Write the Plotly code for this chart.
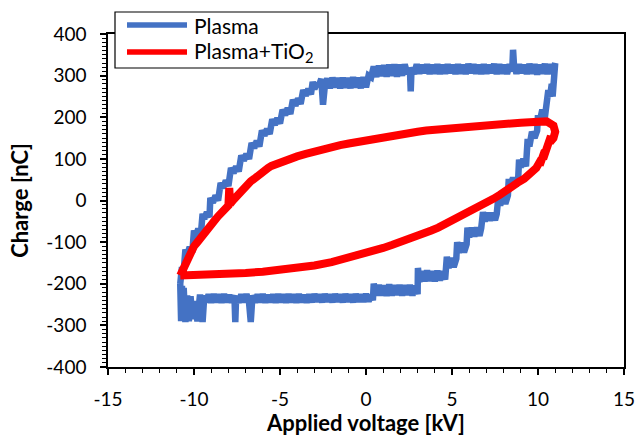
import plotly.graph_objects as go

# ---------------- data ----------------
# Plasma loop, bottom edge (left -> right)
plasma_bottom_v = [-10.8,-10.75,-10.7,-10.65,-10.6,-10.5,-10.4,-10.3,-10.2,-10.1,-9.95,-9.8,-9.65,-9.5,-9.4,-9.3,-9.15,-9.0,-8.85,-8.7,-8.55,-8.4,-8.25,-8.1,-7.95,-7.8,-7.65,-7.6,-7.55,-7.4,-7.25,-7.1,-6.95,-6.8,-6.7,-6.6,-6.45,-6.3,-6.15,-6.0,-5.85,-5.7,-5.55,-5.4,-5.25,-5.1,-4.95,-4.8,-4.65,-4.5,-4.35,-4.2,-4.05,-3.9,-3.75,-3.6,-3.45,-3.3,-3.15,-3.0,-2.85,-2.7,-2.55,-2.4,-2.25,-2.1,-1.95,-1.8,-1.65,-1.5,-1.35,-1.2,-1.05,-0.9,-0.75,-0.6,-0.45,-0.3,-0.15,0.0,0.15,0.3,0.4]
plasma_bottom_q = [-200,-290,-205,-288,-210,-292,-228,-290,-230,-285,-242,-290,-226,-292,-228,-244,-226,-245,-225,-244,-226,-245,-225,-244,-227,-245,-228,-292,-230,-245,-226,-244,-225,-245,-292,-228,-245,-226,-244,-225,-245,-227,-244,-226,-245,-225,-244,-226,-245,-225,-244,-226,-245,-225,-244,-227,-245,-226,-244,-225,-243,-226,-244,-225,-243,-226,-244,-225,-243,-226,-244,-225,-243,-226,-244,-225,-243,-226,-243,-225,-242,-226,-240]
# Plasma loop, right staircase (bottom -> top)
plasma_right_v = [0.45,0.6,0.75,0.9,1.05,1.2,1.35,1.5,1.65,1.8,1.95,2.1,2.25,2.4,2.55,2.7,2.85,3.0,3.02,3.1,3.25,3.4,3.55,3.7,3.85,4.0,4.15,4.3,4.45,4.6,4.7,4.8,4.95,5.1,5.25,5.3,5.4,5.55,5.7,5.85,5.9,6.0,6.15,6.3,6.45,6.6,6.7,6.8,6.9,7.05,7.2,7.35,7.5,7.6,7.7,7.8,7.95,8.1,8.25,8.3,8.4,8.55,8.7,8.85,8.9,9.0,9.15,9.3,9.4,9.5,9.65,9.8,9.95,10.0,10.1,10.25,10.4,10.5,10.6,10.7,10.8,10.85,10.9,10.95,11.0]
plasma_right_q = [-200,-228,-203,-228,-204,-229,-202,-228,-204,-227,-203,-228,-204,-227,-203,-228,-205,-225,-162,-195,-170,-194,-168,-193,-170,-194,-169,-192,-170,-190,-135,-162,-138,-160,-140,-100,-125,-102,-124,-105,-65,-88,-66,-86,-65,-85,-66,-28,-50,-30,-48,-30,-47,-32,10,-12,12,-8,12,52,30,55,35,55,98,80,100,82,148,130,165,150,168,205,190,218,200,222,265,250,280,250,315,280,330]
# Plasma loop, top edge (right -> left)
plasma_top_v = [10.85,10.7,10.55,10.4,10.25,10.1,9.95,9.8,9.65,9.5,9.35,9.2,9.05,8.9,8.75,8.6,8.55,8.5,8.35,8.2,8.05,7.9,7.75,7.6,7.45,7.3,7.15,7.0,6.85,6.7,6.55,6.4,6.25,6.1,5.95,5.8,5.65,5.5,5.35,5.2,5.05,4.9,4.75,4.6,4.45,4.3,4.15,4.0,3.85,3.7,3.55,3.4,3.25,3.1,2.95,2.8,2.65,2.6,2.55,2.4,2.25,2.1,1.95,1.8,1.65,1.5,1.35,1.2,1.05,0.9,0.75,0.6,0.45,0.3,0.15,0.0,-0.15,-0.3,-0.45,-0.6,-0.75,-0.9,-1.05,-1.2,-1.35,-1.5,-1.65,-1.8,-1.95,-2.1,-2.25,-2.4,-2.5,-2.6,-2.75]
plasma_top_q = [305,327,304,328,305,326,303,327,305,328,304,326,306,327,305,328,362,310,327,304,326,305,327,304,328,306,326,305,327,304,326,305,327,306,328,304,326,305,327,304,326,306,327,305,326,304,327,305,326,304,327,306,326,305,327,304,320,262,318,304,327,300,326,298,327,300,326,298,325,299,324,297,322,296,300,272,296,270,295,272,296,270,294,271,295,270,294,272,295,270,293,272,230,292,275]
# Plasma loop, left staircase (top -> bottom)
plasma_left_v = [-2.85,-3.0,-3.1,-3.2,-3.35,-3.5,-3.65,-3.8,-3.95,-4.1,-4.25,-4.4,-4.55,-4.7,-4.85,-5.0,-5.15,-5.3,-5.45,-5.6,-5.75,-5.9,-6.05,-6.2,-6.35,-6.5,-6.65,-6.8,-6.95,-7.1,-7.25,-7.4,-7.55,-7.7,-7.85,-8.0,-8.15,-8.3,-8.45,-8.6,-8.75,-8.9,-9.05,-9.1,-9.25,-9.4,-9.5,-9.6,-9.75,-9.9,-10.0,-10.1,-10.25,-10.4,-10.5,-10.6,-10.7,-10.8]
plasma_left_q = [282,268,285,255,268,252,265,232,245,228,242,208,222,205,218,185,198,182,195,160,172,156,168,130,143,126,138,100,112,96,108,70,82,66,78,35,48,30,42,0,12,-5,6,-40,-28,-44,-32,-80,-68,-85,-72,-125,-112,-130,-118,-170,-160,-200]

# Plasma+TiO2 loop, upper branch (left -> right)
tio2_upper_v = [-10.8,-10.6,-10.4,-10.2,-10.0,-9.8,-9.6,-9.4,-9.2,-9.0,-8.8,-8.6,-8.4,-8.2,-8.0,-7.95,-7.9,-7.7,-7.5,-7.3,-7.1,-6.9,-6.7,-6.5,-6.3,-6.1,-5.9,-5.7,-5.5,-5.0,-4.5,-4.0,-3.5,-3.0,-2.5,-2.0,-1.5,-1.0,-0.5,0.0,0.5,1.0,1.5,2.0,2.5,3.0,3.5,4.0,4.5,5.0,5.5,6.0,6.5,7.0,7.5,8.0,8.5,9.0,9.5,10.0,10.5,10.9,11.0]
tio2_upper_q = [-180,-160,-140,-125,-110,-100,-88,-78,-68,-55,-48,-38,-28,-20,-12,30,-8,2,12,20,30,38,46,52,60,66,72,78,83,92,100,106,112,118,124,128,133,137,141,145,149,152,156,159,162,165,168,170,173,175,177,179,181,182,184,185,186,187,188,189,190,180,165]
# Plasma+TiO2 loop, lower branch (right -> left)
tio2_lower_v = [10.9,10.7,10.75,10.5,10.6,10.3,10.4,10.1,10.2,9.9,9.7,9.5,9.2,8.9,8.6,8.2,7.8,7.4,7.0,6.6,6.2,5.8,5.4,5.0,4.6,4.2,3.8,3.4,3.0,2.5,2.0,1.5,1.0,0.5,0.0,-0.5,-1.0,-1.5,-2.0,-3.0,-4.0,-5.0,-6.0,-7.0,-8.0,-9.0,-10.0,-10.8]
tio2_lower_q = [150,140,155,118,135,100,120,85,100,78,70,60,52,45,38,26,14,4,-5,-15,-23,-32,-40,-49,-57,-65,-72,-79,-85,-93,-100,-107,-114,-120,-127,-133,-139,-144,-148,-156,-162,-167,-171,-174,-176,-178,-179,-180]

x_ticks = [-15, -10, -5, 0, 5, 10, 15]
y_ticks = [-400, -300, -200, -100, 0, 100, 200, 300, 400]
legend_names = ["Plasma", "Plasma+TiO<sub>2</sub>"]
colors = ["#4472C4", "#FF0000"]

plasma_v = plasma_bottom_v + plasma_right_v + plasma_top_v + plasma_left_v
plasma_q = plasma_bottom_q + plasma_right_q + plasma_top_q + plasma_left_q
tio2_v = tio2_upper_v + tio2_lower_v
tio2_q = tio2_upper_q + tio2_lower_q

FONT = "Lato"

fig = go.Figure()
fig.add_trace(go.Scatter(x=plasma_v, y=plasma_q, mode="lines", name=legend_names[0],
                         line=dict(color=colors[0], width=6.5), showlegend=False))
fig.add_trace(go.Scatter(x=tio2_v, y=tio2_q, mode="lines", name=legend_names[1],
                         line=dict(color=colors[1], width=8), showlegend=False))

axis_common = dict(showline=True, linecolor="black", linewidth=1.5, mirror=True,
                   showgrid=False, zeroline=False, ticks="outside", tickcolor="black",
                   ticklen=6, tickwidth=1.5, automargin=False,
                   tickfont=dict(family=FONT, size=19, color="black"))

fig.update_xaxes(range=[-15, 15], tickvals=x_ticks, ticktext=[str(v) for v in x_ticks],
                 ticklabelstandoff=8,
                 minor=dict(dtick=1, ticks="outside", ticklen=4, tickcolor="black", tickwidth=1),
                 title=dict(text="<b>Applied voltage [kV]</b>", font=dict(family=FONT, size=22, color="black"),
                            standoff=6),
                 **axis_common)
fig.update_yaxes(range=[-400, 400], tickvals=y_ticks, ticktext=[str(v) for v in y_ticks],
                 ticklabelstandoff=10,
                 minor=dict(dtick=10, ticks="outside", ticklen=4, tickcolor="black", tickwidth=1),
                 title=dict(text="<b>Charge [nC]</b>", font=dict(family=FONT, size=22, color="black"),
                            standoff=12),
                 **axis_common)

# Legend box drawn in paper coordinates (plot area: x 108..624 px, y 34..367 px)
def px_x(px):
    return (px - 108) / 516.0

def px_y(py):
    return (367 - py) / 333.0

shapes = [dict(type="rect", xref="paper", yref="paper",
               x0=px_x(115), x1=px_x(328), y0=px_y(68), y1=px_y(12),
               line=dict(color="black", width=1.2), fillcolor="white", layer="above")]
annotations = []
for i, (name, col) in enumerate(zip(legend_names, colors)):
    yy = px_y(25 + 27 * i)
    shapes.append(dict(type="line", xref="paper", yref="paper",
                       x0=px_x(127), x1=px_x(187), y0=yy, y1=yy,
                       line=dict(color=col, width=5.5), layer="above"))
    annotations.append(dict(xref="paper", yref="paper", x=px_x(192), y=yy,
                            text=name, showarrow=False, xanchor="left", yanchor="middle",
                            font=dict(family=FONT, size=21, color="black")))

fig.update_layout(
    width=639, height=436,
    margin=dict(l=108, r=15, t=34, b=69),
    plot_bgcolor="white", paper_bgcolor="white",
    shapes=shapes, annotations=annotations,
    showlegend=False,
)

fig.write_html("out.html")
